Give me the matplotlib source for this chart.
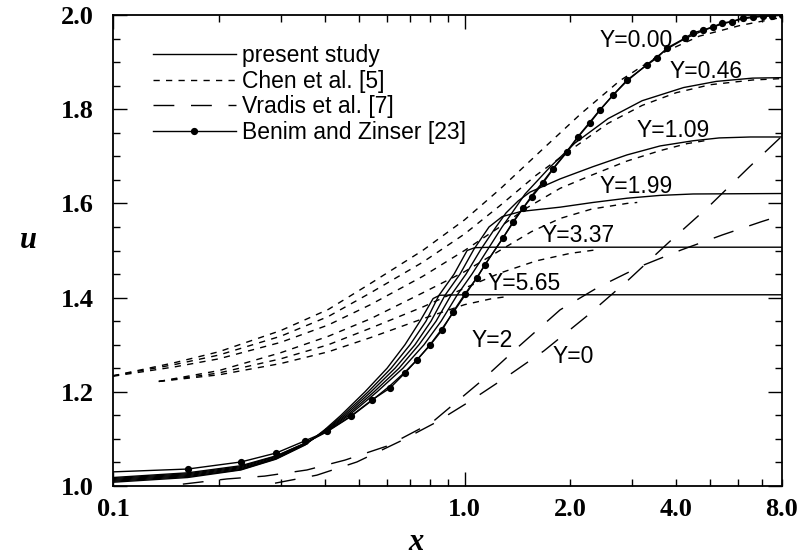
import matplotlib
matplotlib.use("Agg")
import matplotlib.pyplot as plt
from matplotlib.ticker import FixedLocator, FuncFormatter
from matplotlib.lines import Line2D

plt.rcParams['lines.scale_dashes'] = False

# ---------------- data ----------------
# present study (solid), one curve per Y
ps_y000_x = [0.1, 0.163, 0.231, 0.291, 0.352, 0.406, 0.476, 0.546, 0.614, 0.677, 0.733, 0.798, 0.863, 0.928,
             1.003, 1.085, 1.144, 1.287, 1.374, 1.467, 1.556, 1.672, 1.786, 1.957, 2.103, 2.275, 2.429, 2.646,
             2.900, 3.305, 3.769, 4.240, 4.770, 5.402, 6.200, 7.069, 8.0]
ps_y000_u = [1.018, 1.028, 1.043, 1.064, 1.091, 1.115, 1.148, 1.182, 1.213, 1.242, 1.268, 1.300, 1.334, 1.368,
             1.405, 1.443, 1.470, 1.527, 1.559, 1.590, 1.617, 1.646, 1.674, 1.711, 1.742, 1.773, 1.799, 1.830,
             1.860, 1.895, 1.928, 1.950, 1.967, 1.981, 1.992, 1.998, 2.0]

ps_y046_x = [0.1, 0.163, 0.231, 0.291, 0.352, 0.412, 0.469, 0.564, 0.668, 0.767, 0.858, 0.952, 1.050, 1.166,
             1.279, 1.365, 1.487, 1.75, 2.06, 2.56, 3.2, 4.2, 5.2, 6.6, 8.0]
ps_y046_u = [1.016, 1.026, 1.041, 1.063, 1.091, 1.12, 1.15, 1.20, 1.25, 1.30, 1.35, 1.405, 1.45, 1.503,
             1.55, 1.58, 1.62, 1.677, 1.728, 1.780, 1.818, 1.846, 1.859, 1.866, 1.867]

ps_y109_x = [0.1, 0.163, 0.231, 0.291, 0.352, 0.409, 0.463, 0.553, 0.651, 0.742, 0.830, 0.915, 1.010, 1.114,
             1.229, 1.313, 1.42, 1.536, 1.87, 2.32, 2.90, 3.60, 4.47, 5.3, 6.5, 8.0]
ps_y109_u = [1.014, 1.024, 1.039, 1.061, 1.090, 1.12, 1.15, 1.20, 1.25, 1.30, 1.35, 1.405, 1.45, 1.503,
             1.55, 1.58, 1.605, 1.624, 1.652, 1.678, 1.703, 1.722, 1.733, 1.739, 1.741, 1.741]

ps_y199_x = [0.1, 0.163, 0.231, 0.291, 0.352, 0.406, 0.457, 0.542, 0.634, 0.723, 0.803, 0.880, 0.971, 1.064,
             1.174, 1.28, 1.45, 1.87, 2.32, 2.90, 3.60, 4.47, 8.0]
ps_y199_u = [1.012, 1.022, 1.037, 1.059, 1.089, 1.12, 1.15, 1.20, 1.25, 1.30, 1.35, 1.405, 1.45, 1.503,
             1.55, 1.572, 1.583, 1.592, 1.602, 1.611, 1.617, 1.620, 1.621]

ps_y337_x = [0.1, 0.163, 0.231, 0.291, 0.352, 0.404, 0.451, 0.532, 0.618, 0.700, 0.777, 0.846, 0.934, 1.017,
             1.07, 1.2, 8.0]
ps_y337_u = [1.010, 1.020, 1.035, 1.058, 1.088, 1.12, 1.15, 1.20, 1.25, 1.30, 1.35, 1.405, 1.45, 1.50,
             1.506, 1.507, 1.507]

ps_y565_x = [0.1, 0.163, 0.231, 0.291, 0.352, 0.401, 0.445, 0.521, 0.602, 0.677, 0.747, 0.814, 0.85, 1.0, 8.0]
ps_y565_u = [1.008, 1.018, 1.034, 1.057, 1.087, 1.12, 1.15, 1.20, 1.25, 1.30, 1.35, 1.398, 1.405, 1.406, 1.406]

# Chen et al. [5] (short dashes)
ch_y000_x = [0.1, 0.15, 0.2, 0.3, 0.41, 0.54, 0.76, 1.0, 1.26, 1.64, 2.14, 2.76, 3.67, 4.65, 6.1, 8.0]
ch_y000_u = [1.234, 1.262, 1.285, 1.33, 1.375, 1.43, 1.50, 1.565, 1.63, 1.71, 1.79, 1.86, 1.92, 1.955, 1.978, 1.995]
ch_y046_x = [0.1, 0.15, 0.2, 0.3, 0.41, 0.54, 0.76, 1.0, 1.26, 1.6, 2.06, 2.56, 3.2, 4.0, 5.0, 6.6, 8.0]
ch_y046_u = [1.234, 1.258, 1.278, 1.318, 1.36, 1.41, 1.475, 1.535, 1.595, 1.66, 1.72, 1.77, 1.808, 1.835, 1.852, 1.862, 1.865]
ch_y109_x = [0.1, 0.15, 0.2, 0.3, 0.41, 0.54, 0.76, 1.0, 1.26, 1.5, 1.87, 2.3, 2.9, 3.6, 4.3, 5.0]
ch_y109_u = [1.233, 1.253, 1.27, 1.305, 1.342, 1.385, 1.445, 1.50, 1.55, 1.59, 1.632, 1.66, 1.69, 1.712, 1.727, 1.735]
ch_y199_x = [0.135, 0.2, 0.3, 0.41, 0.54, 0.76, 1.0, 1.26, 1.55, 1.87, 2.3, 2.9, 3.1]
ch_y199_u = [1.222, 1.245, 1.283, 1.318, 1.355, 1.41, 1.455, 1.50, 1.54, 1.568, 1.588, 1.600, 1.602]
ch_y337_x = [0.135, 0.2, 0.3, 0.41, 0.54, 0.76, 1.0, 1.26, 1.6, 2.0, 2.4]
ch_y337_u = [1.222, 1.24, 1.27, 1.30, 1.335, 1.38, 1.42, 1.452, 1.478, 1.494, 1.502]
ch_y565_x = [0.135, 0.2, 0.3, 0.41, 0.54, 0.76, 1.0, 1.2, 1.32]
ch_y565_u = [1.222, 1.236, 1.26, 1.285, 1.315, 1.355, 1.385, 1.398, 1.402]

# Vradis et al. [7] (long dashes)
vr_y2_x = [0.158, 0.211, 0.270, 0.356, 0.457, 0.603, 0.808, 1.10, 1.43, 1.87, 2.40, 3.18, 4.13, 5.41, 6.98, 8.0]
vr_y2_u = [1.004, 1.015, 1.021, 1.034, 1.055, 1.085, 1.135, 1.219, 1.297, 1.374, 1.422, 1.467, 1.501, 1.533, 1.561, 1.575]
vr_y0_x = [0.289, 0.380, 0.494, 0.656, 0.824, 1.016, 1.312, 1.683, 2.23, 2.92, 3.82, 4.96, 6.45, 8.0]
vr_y0_u = [1.006, 1.023, 1.051, 1.095, 1.134, 1.176, 1.231, 1.287, 1.361, 1.437, 1.518, 1.594, 1.677, 1.743]

# Benim and Zinser [23] (solid with dots), Y = 0
bz_x = [0.1, 0.163, 0.231, 0.291, 0.352, 0.406, 0.476, 0.546, 0.614, 0.677, 0.733, 0.798, 0.863, 0.928,
        1.003, 1.085, 1.144, 1.287, 1.374, 1.467, 1.556, 1.672, 1.786, 1.957, 2.103, 2.275, 2.429, 2.646,
        2.900, 3.305, 3.530, 3.769, 4.240, 4.468, 4.770, 5.093, 5.402, 5.768, 6.200, 6.621, 7.069, 7.498, 8.0]
bz_u = [1.030, 1.036, 1.051, 1.070, 1.096, 1.116, 1.149, 1.183, 1.208, 1.240, 1.268, 1.299, 1.331, 1.370,
        1.408, 1.442, 1.470, 1.527, 1.561, 1.590, 1.614, 1.643, 1.673, 1.709, 1.741, 1.771, 1.798, 1.830,
        1.862, 1.894, 1.909, 1.930, 1.951, 1.962, 1.968, 1.975, 1.983, 1.986, 1.994, 1.996, 1.997, 1.998, 2.0]

labels_present = ["Y=0.00", "Y=0.46", "Y=1.09", "Y=1.99", "Y=3.37", "Y=5.65"]
label_pos_x = [3.08, 4.87, 3.92, 3.08, 2.10, 1.477]
label_pos_u = [1.945, 1.879, 1.754, 1.635, 1.531, 1.429]
labels_vradis = ["Y=2", "Y=0"]
vr_label_x = [1.197, 2.035]
vr_label_u = [1.308, 1.276]

legend_labels = ["present study", "Chen et al. [5]", "Vradis et al. [7]", "Benim and Zinser [23]"]
xtick_major = [0.1, 1.0]
xtick_minor = [0.2, 0.3, 0.4, 0.5, 0.6, 0.7, 0.8, 0.9, 2.0, 3.0, 4.0, 5.0, 6.0, 7.0, 8.0]
xtick_minor_labeled = [2.0, 4.0, 8.0]
ytick_major = [1.0, 1.2, 1.4, 1.6, 1.8, 2.0]
ytick_minor = [1.0 + 0.05 * i for i in range(21)]

# ---------------- plot ----------------
W, H = 806, 556
fig = plt.figure(figsize=(W / 100, H / 100), dpi=100)
ax = fig.add_axes([113 / W, (H - 486) / H, 669 / W, 471 / H])
ax.set_xscale('log')

lw = 1.0
short = (0, (4.5, 4.5))
long_ = (0, (15, 12))

present = [(ps_y000_x, ps_y000_u), (ps_y046_x, ps_y046_u), (ps_y109_x, ps_y109_u),
           (ps_y199_x, ps_y199_u), (ps_y337_x, ps_y337_u), (ps_y565_x, ps_y565_u)]
chen = [(ch_y000_x, ch_y000_u), (ch_y046_x, ch_y046_u), (ch_y109_x, ch_y109_u),
        (ch_y199_x, ch_y199_u), (ch_y337_x, ch_y337_u), (ch_y565_x, ch_y565_u)]
vradis = [(vr_y2_x, vr_y2_u), (vr_y0_x, vr_y0_u)]

for xs, us in present:
    ax.plot(xs, us, color='black', lw=lw)
for xs, us in chen:
    ax.plot(xs, us, color='black', lw=lw, linestyle=short)
for xs, us in vradis:
    ax.plot(xs, us, color='black', lw=lw, linestyle=long_)
ax.plot(bz_x, bz_u, color='black', lw=lw, marker='o', ms=4.2, markevery=slice(1, None))

sans = 'Liberation Sans'
serif = 'Liberation Serif'
for t, xx, uu in zip(labels_present, label_pos_x, label_pos_u):
    ax.text(xx, uu, t, ha='center', va='center', fontsize=16.5, family=sans)
for t, xx, uu in zip(labels_vradis, vr_label_x, vr_label_u):
    ax.text(xx, uu, t, ha='center', va='center', fontsize=16.5, family=sans)

ax.set_xlim(0.1, 8.0)
ax.set_ylim(1.0, 2.0)

ax.xaxis.set_major_locator(FixedLocator(xtick_major))
ax.xaxis.set_minor_locator(FixedLocator(xtick_minor))
ax.xaxis.set_major_formatter(FuncFormatter(lambda v, p: f"{v:.1f}"))
ax.xaxis.set_minor_formatter(FuncFormatter(
    lambda v, p: f"{v:.1f}" if any(abs(v - m) < 1e-9 for m in xtick_minor_labeled) else ""))
ax.yaxis.set_major_locator(FixedLocator(ytick_major))
ax.yaxis.set_minor_locator(FixedLocator(ytick_minor))
ax.yaxis.set_major_formatter(FuncFormatter(lambda v, p: f"{v:.1f}"))

ax.tick_params(which='both', direction='in', top=True, right=True, width=1.0, colors='black')
ax.tick_params(which='major', length=10)
ax.tick_params(which='minor', length=5)
ax.tick_params(axis='x', which='both', pad=9)
ax.tick_params(axis='y', which='both', pad=14)
for lab in ax.get_xticklabels(which='both') + ax.get_yticklabels(which='both'):
    lab.set_fontfamily(serif)
    lab.set_fontsize(19)
    lab.set_fontweight('bold')

for s in ax.spines.values():
    s.set_linewidth(1.3)

fig.text(416 / W, (H - 550) / H, 'x', ha='center', va='baseline', fontsize=22,
         family=serif, style='italic', fontweight='bold')
fig.text(28 / W, (H - 248) / H, 'u', ha='center', va='baseline', fontsize=22,
         family=serif, style='italic', fontweight='bold')

handles = [Line2D([], [], color='black', lw=lw),
           Line2D([], [], color='black', lw=lw, linestyle=short),
           Line2D([], [], color='black', lw=lw, linestyle=long_),
           Line2D([], [], color='black', lw=lw, marker='o', ms=4.2)]
leg = ax.legend(handles, legend_labels, loc='upper left',
                bbox_to_anchor=((153 - 113) / 669, (486 - 44) / 471),
                frameon=False, borderpad=0, borderaxespad=0, handlelength=3.6,
                handletextpad=0.3, labelspacing=0.12, prop={'family': sans, 'size': 16.5})
for h in leg.legend_handles:
    h.set_markevery([1])

fig.savefig('out.png', dpi=100)
